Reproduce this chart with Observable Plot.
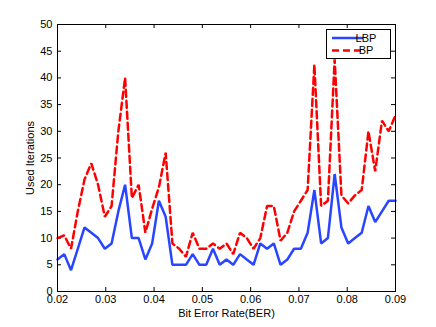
<!DOCTYPE html>
<html>
<head>
<meta charset="utf-8">
<script src="https://cdn.jsdelivr.net/npm/d3@7"></script>
<script src="https://cdn.jsdelivr.net/npm/@observablehq/plot@0.6"></script>
<style>
  html, body { margin: 0; padding: 0; background: #fff; }
  #chart { width: 436px; height: 327px; }
</style>
</head>
<body>
<div id="chart"></div>
<script>
const ber = [
  0.0200, 0.0214, 0.0228, 0.0242, 0.0256, 0.0270, 0.0284, 0.0298, 0.0312, 0.0326,
  0.0340, 0.0354, 0.0368, 0.0382, 0.0396, 0.0410, 0.0424, 0.0438, 0.0452, 0.0466,
  0.0480, 0.0494, 0.0508, 0.0522, 0.0536, 0.0550, 0.0564, 0.0578, 0.0592, 0.0606,
  0.0620, 0.0634, 0.0648, 0.0662, 0.0676, 0.0690, 0.0704, 0.0718, 0.0732, 0.0746,
  0.0760, 0.0774, 0.0788, 0.0802, 0.0816, 0.0830, 0.0844, 0.0858, 0.0872, 0.0886,
  0.0900
];
const lbp = [
  6, 7, 4, 8, 12, 11, 10, 8, 9, 15,
  20, 10, 10, 6, 9, 17, 14, 5, 5, 5,
  7, 5, 5, 8, 5, 6, 5, 7, 6, 5,
  9, 8, 9, 5, 6, 8, 8, 11, 19, 9,
  10, 22, 12, 9, 10, 11, 16, 13, 15, 17,
  17
];
const bp = [
  10, 10.5, 8, 15, 21, 24, 20, 14, 16, 30,
  40, 17.5, 20, 11, 15.5, 19.5, 26, 9, 8, 6.5,
  11, 8, 8, 9, 8, 9, 7, 11, 10, 8,
  10, 16, 16, 9.5, 11, 15, 17, 19, 42.5, 16,
  17, 43.5, 18, 16.5, 18, 19, 30, 22.5, 32, 30,
  33
];
const xTicks = [0.02, 0.03, 0.04, 0.05, 0.06, 0.07, 0.08, 0.09];
const yTicks = [0, 5, 10, 15, 20, 25, 30, 35, 40, 45, 50];
const seriesNames = ["LBP", "BP"];
const seriesColors = ["#2846ff", "#ff0000"];

const lbpData = ber.map((x, i) => ({x, y: lbp[i]}));
const bpData = ber.map((x, i) => ({x, y: bp[i]}));

const W = 436, H = 327;
const mL = 57, mR = 41, mT = 24, mB = 36;
const innerH = H - mT - mB, innerW = W - mL - mR;
const tickLen = 4;

const svg = Plot.plot({
  width: W,
  height: H,
  marginLeft: mL,
  marginRight: mR,
  marginTop: mT,
  marginBottom: mB,
  style: {fontFamily: "'Liberation Sans', Arial, sans-serif", fontSize: "11px", background: "#fff", color: "#000"},
  x: {domain: [0.02, 0.09]},
  y: {domain: [0, 50]},
  marks: [
    Plot.axisX(xTicks, {tickSize: 0, tickPadding: 4, tickFormat: d => d.toFixed(2), fontSize: 11,
      label: "Bit Error Rate(BER)", labelAnchor: "center", labelArrow: "none", labelOffset: 25}),
    Plot.axisY(yTicks, {tickSize: 0, tickPadding: 5, fontSize: 11,
      label: "Used Iterations", labelAnchor: "center", labelArrow: "none", labelOffset: 31}),
    Plot.tickX(xTicks, {x: d => d, stroke: "#000", insetTop: innerH - tickLen}),
    Plot.tickX(xTicks, {x: d => d, stroke: "#000", insetBottom: innerH - tickLen}),
    Plot.tickY(yTicks, {y: d => d, stroke: "#000", insetRight: innerW - tickLen}),
    Plot.tickY(yTicks, {y: d => d, stroke: "#000", insetLeft: innerW - tickLen}),
    Plot.line(bpData, {x: "x", y: "y", stroke: seriesColors[1], strokeWidth: 2.5, strokeDasharray: "7,4", strokeLinejoin: "miter"}),
    Plot.line(lbpData, {x: "x", y: "y", stroke: seriesColors[0], strokeWidth: 2.5, strokeLinejoin: "miter"}),
    Plot.frame({stroke: "#000", strokeWidth: 1})
  ]
});

// legend
const g = d3.select(svg).append("g").attr("font-family", "'Liberation Sans', Arial, sans-serif").attr("font-size", 11);
const lx = 326, ly = 29, lw = 64, lh = 29;
g.append("rect").attr("x", lx + 0.5).attr("y", ly + 0.5).attr("width", lw).attr("height", lh)
  .attr("fill", "#fff").attr("stroke", "#000").attr("stroke-width", 1);
seriesNames.forEach((name, i) => {
  const yy = ly + 9 + i * 12.5;
  g.append("line").attr("x1", lx + 6).attr("x2", lx + 37).attr("y1", yy).attr("y2", yy)
    .attr("stroke", seriesColors[i]).attr("stroke-width", 2.5)
    .attr("stroke-dasharray", i === 1 ? "7,4" : null);
  g.append("text").attr("x", lx + 40).attr("y", yy).attr("dy", "0.35em").attr("fill", "#000").text(name);
});

document.getElementById("chart").appendChild(svg);
</script>
</body>
</html>
